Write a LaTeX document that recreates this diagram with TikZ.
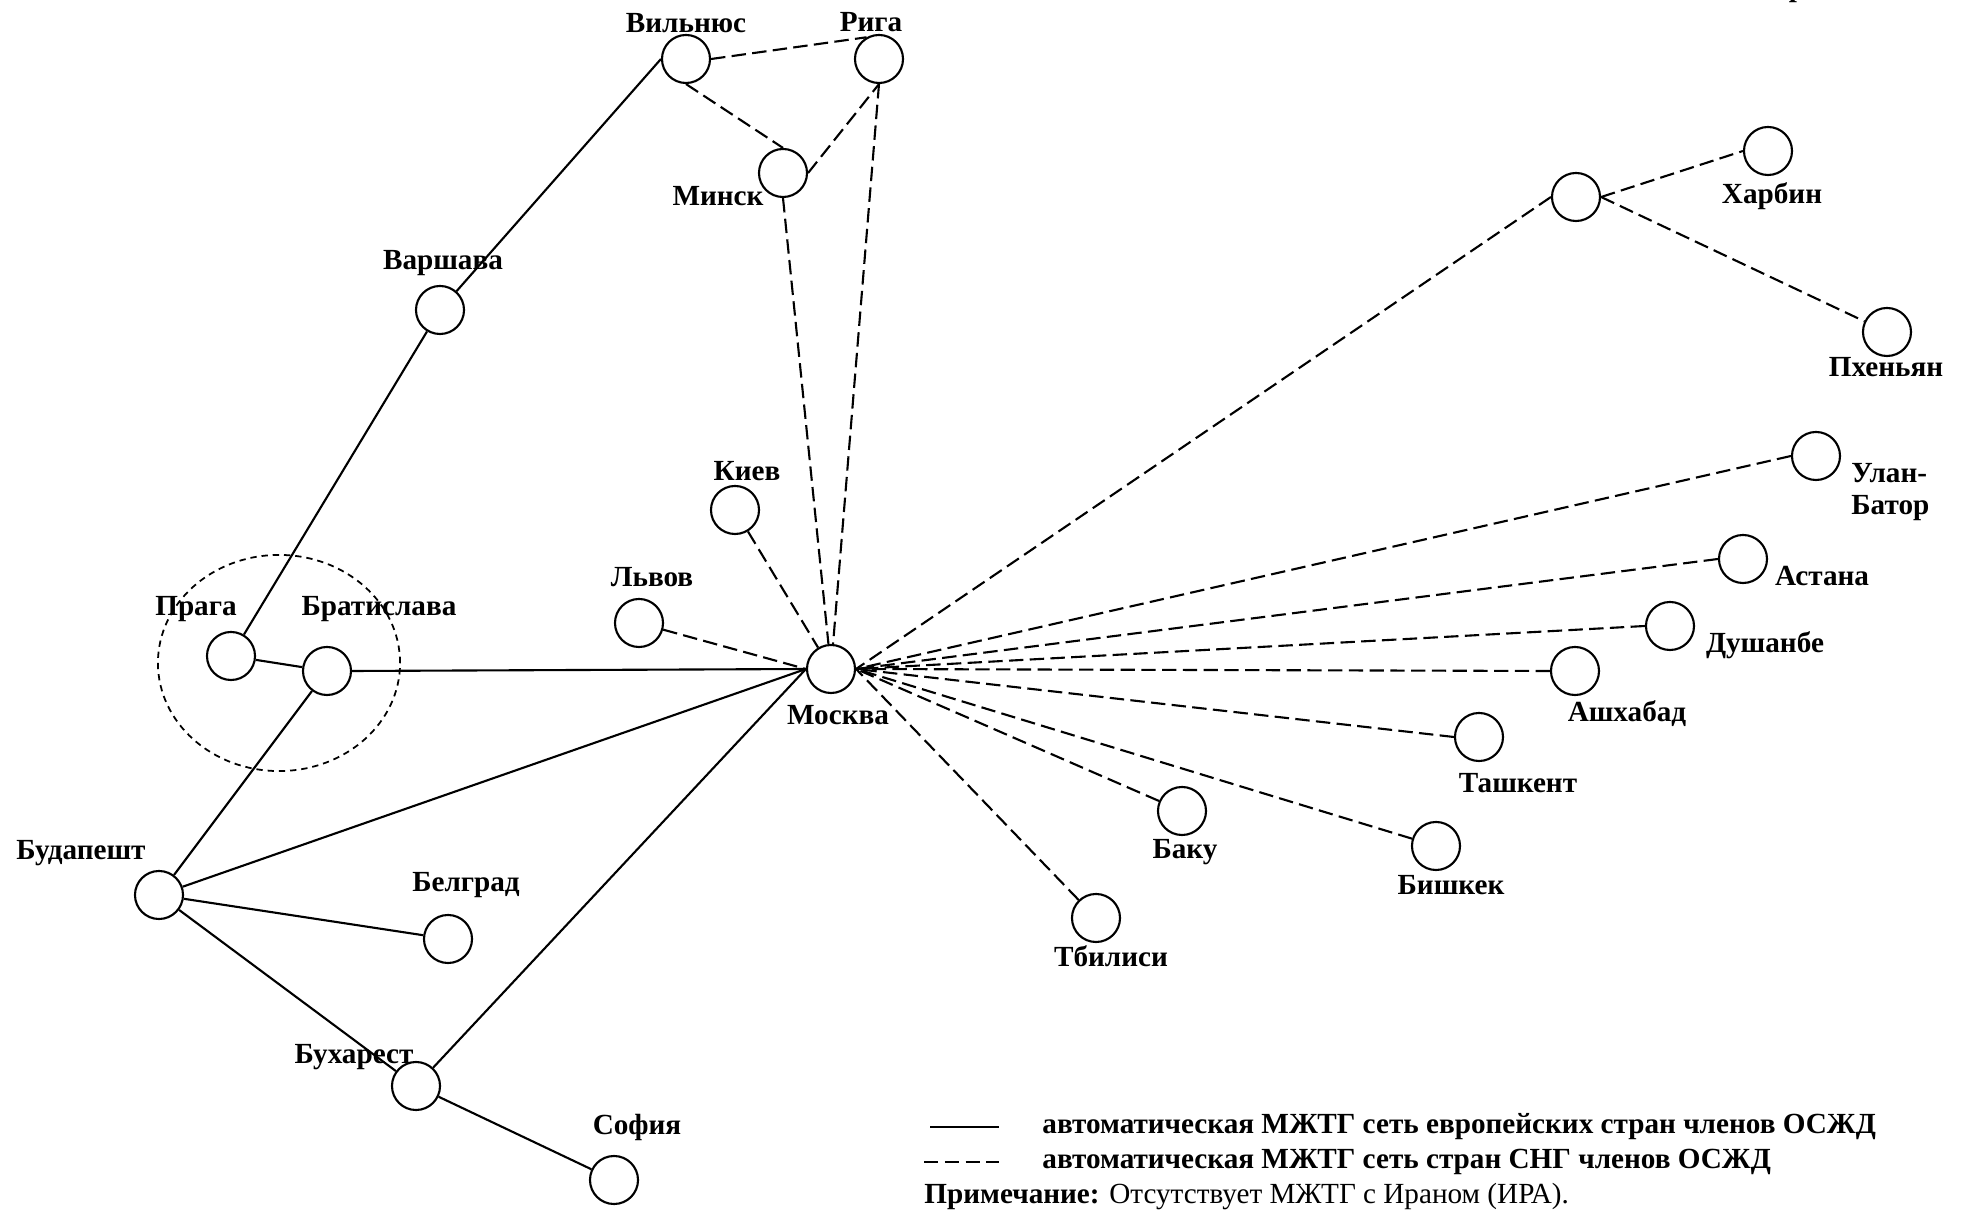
\documentclass[tikz,border=0pt]{standalone}
\usepackage{fontspec}
\setmainfont{Liberation Serif}
\usetikzlibrary{shapes.geometric}

\begin{document}
\begin{tikzpicture}[x=0.01cm,y=-0.01cm,
  every node/.style={font=\fontsize{8.3}{10}\selectfont\bfseries},
  city/.style={draw,circle,minimum size=4.8mm,inner sep=0pt,line width=0.6pt},
  eu/.style={line width=0.6pt},
  cis/.style={line width=0.6pt,dash pattern=on 4.1pt off 1.8pt}]
\useasboundingbox (0,0) rectangle (1966,1213);

\node(vilnius) [city] at (686, 59) {};
\node(riga) [city] at (879, 59) {};
\node(minsk) [city] at (783, 173) {};
\node(warsaw) [city] at (440, 310) {};
\node(prague) [city] at (231, 656) {};
\node(bratislava) [city] at (327, 671) {};
\node(budapest) [city] at (159, 895) {};
\node(belgrade) [city] at (448, 939) {};
\node(bucharest) [city] at (416, 1086) {};
\node(sofia) [city] at (614, 1180) {};
\node(moscow) [city] at (831, 669) {};
\node(kiev) [city] at (735, 510) {};
\node(lviv) [city] at (639, 623) {};
\node(hub) [city] at (1576, 197) {};
\node(harbin) [city] at (1768, 151) {};
\node(pyongyang) [city] at (1887, 332) {};
\node(ulanbator) [city] at (1816, 456) {};
\node(astana) [city] at (1743, 559) {};
\node(dushanbe) [city] at (1670, 626) {};
\node(ashgabat) [city] at (1575, 671) {};
\node(tashkent) [city] at (1479, 737) {};
\node(bishkek) [city] at (1436, 846) {};
\node(baku) [city] at (1182, 811) {};
\node(tbilisi) [city] at (1096, 918) {};

\node(pragueb) [draw,ellipse,line width=0.5pt,dash pattern=on 1.8pt off 1.4pt,minimum width=2.42cm,minimum height=2.16cm] at (279, 663) {};

\node(vilniusl) at (686, 23) {Вильнюс};
\node(rigal) at (871, 22) {Рига};
\node(minskl) at (718, 196) {Минск};
\node(warsawl) at (443, 263) {Варшава};
\node(kievl) at (747, 471) {Киев};
\node(lvivl) at (652, 577) {Львов};
\node(praguel) at (196, 609) {Прага};
\node(bratislaval) at (379, 609) {Братислава};
\node(moscowl) at (838, 715) {Москва};
\node(budapestl) at (81, 853) {Будапешт};
\node(belgradel) at (466, 885) {Белград};
\node(bucharestl) at (354, 1057) {Бухарест};
\node(sofial) at (637, 1127) {София};
\node(harbinl) at (1772, 196) {Харбин};
\node(pyongyangl) at (1886, 367) {Пхеньян};
\node(ulanbatorl) [anchor=west,align=left,font=\fontsize{8.3}{9.2}\selectfont\bfseries] at (1839, 492) {Улан-\\Батор};
\node(astanal) at (1822, 576) {Астана};
\node(dushanbel) at (1765, 645) {Душанбе};
\node(ashgabatl) at (1627, 714) {Ашхабад};
\node(tashkentl) at (1518, 783) {Ташкент};
\node(bishkekl) at (1451, 885) {Бишкек};
\node(bakul) at (1185, 852) {Баку};
\node(tbilisil) at (1111, 956) {Тбилиси};
\node(fragment) [anchor=base] at (1797, -3) {р};

\draw[eu] (vilnius.west)--(warsaw); \draw[eu] (warsaw)--(prague); \draw[eu] (prague)--(bratislava);
\draw[eu] (bratislava.east)--(moscow.west); \draw[eu] (bratislava)--(budapest);
\draw[eu] (budapest)--(moscow.west); \draw[eu] (budapest)--(belgrade); \draw[eu] (budapest)--(bucharest);
\draw[eu] (bucharest)--(moscow.west); \draw[eu] (bucharest)--(sofia);

\draw[cis] (vilnius.east)--(riga.120); \draw[cis] (vilnius.south)--(minsk.north); \draw[cis] (minsk.east)--(riga.south);
\draw[cis] (minsk.south)--(moscow); \draw[cis] (riga.south)--(moscow); \draw[cis] (kiev)--(moscow); \draw[cis] (lviv)--(moscow.west);
\draw[cis] (hub.west)--(moscow.east); \draw[cis] (hub.east)--(harbin.west); \draw[cis] (hub.east)--(pyongyang);
\draw[cis] (ulanbator.west)--(moscow.east); \draw[cis] (astana.west)--(moscow.east); \draw[cis] (dushanbe.west)--(moscow.east);
\draw[cis] (ashgabat.west)--(moscow.east); \draw[cis] (tashkent.west)--(moscow.east); \draw[cis] (bishkek)--(moscow.east);
\draw[cis] (baku)--(moscow.east); \draw[cis] (tbilisi)--(moscow.east);

\coordinate(eua) at (930, 1127); \coordinate(eub) at (999, 1127);
\coordinate(cisa) at (924, 1162); \coordinate(cisb) at (999, 1162);
\draw[eu] (eua)--(eub); \draw[cis] (cisa)--(cisb);
\node(eutext) [anchor=west] at (1030, 1127) {автоматическая МЖТГ сеть европейских стран членов ОСЖД};
\node(cistext) [anchor=west] at (1030, 1162) {автоматическая МЖТГ сеть стран СНГ членов ОСЖД};
\node(note) [anchor=west] at (912, 1197) {Примечание: \mdseries Отсутствует МЖТГ с Ираном (ИРА).};
\end{tikzpicture}
\end{document}
